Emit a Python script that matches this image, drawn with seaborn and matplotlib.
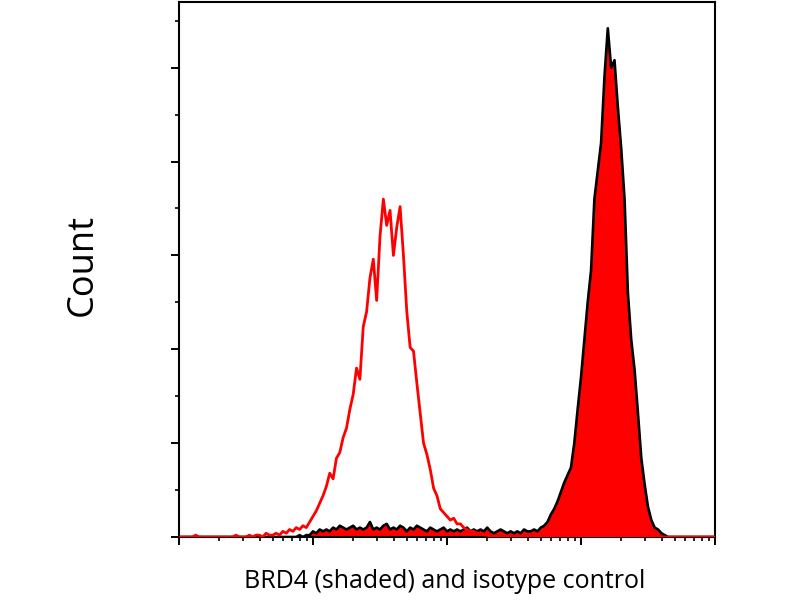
import numpy as np
import matplotlib
matplotlib.use("Agg")
import matplotlib.pyplot as plt
import seaborn as sns

# --- histogram counts, 40 channels per decade, channel 0 = 10^0 ---
isotype_counts = [
    0, 0, 0, 0, 0, 1, 0, 0, 0, 0, 0, 0, 0, 0, 0, 0, 0, 1, 0, 0,
    0, 1, 0, 1, 1, 0, 2, 1, 1, 2, 1, 3, 2, 4, 3, 5, 4, 6, 5, 8,
    11, 14, 18, 22, 27, 34, 31, 42, 45, 53, 58, 68, 76, 90, 84, 112, 120, 138, 148, 126,
    160, 180, 166, 174, 150, 165, 176, 150, 120, 101, 99, 82, 66, 50, 44, 36, 26, 22, 15, 13,
    11, 9, 10, 7, 7, 5, 4, 3, 3, 2, 2, 1, 1, 0, 0, 0, 0, 0, 0, 0,
    0, 0, 0, 0, 0, 0, 0, 0, 0, 0, 0, 0, 0, 0, 0, 0, 0, 0, 0, 0,
    0, 0, 0, 0, 0, 0, 0, 0, 0, 0, 0, 0, 0, 0, 0, 0, 0, 0, 0, 0,
    0, 0, 0, 0, 0, 0, 0, 0, 0, 0, 0, 0, 0, 0, 0, 0, 0, 0, 0, 0,
    0,
]

brd4_counts = [
    0, 0, 0, 0, 0, 0, 0, 0, 0, 0, 0, 0, 0, 0, 0, 0, 0, 0, 0, 0,
    0, 0, 0, 0, 0, 0, 0, 0, 0, 0, 0, 0, 0, 0, 0, 0, 1, 0, 1, 1,
    3, 2, 4, 3, 4, 3, 5, 4, 6, 5, 4, 5, 6, 4, 5, 4, 5, 8, 4, 5,
    4, 6, 7, 4, 5, 4, 6, 5, 3, 5, 4, 6, 5, 4, 3, 5, 4, 3, 4, 5,
    3, 4, 3, 4, 3, 4, 5, 3, 4, 3, 4, 3, 5, 3, 2, 3, 4, 3, 2, 3,
    2, 3, 2, 4, 3, 3, 4, 3, 5, 6, 8, 12, 15, 19, 24, 29, 33, 37, 50, 68,
    85, 105, 125, 142, 180, 195, 210, 245, 271, 250, 254, 229, 207, 180, 130, 105, 89, 66, 42, 28,
    16, 9, 5, 4, 2, 1, 0, 0, 0, 0, 0, 0, 0, 0, 0, 0, 0, 0, 0, 0,
    0,
]

CHANNELS_PER_DECADE = 40
y_major = [0, 50, 100, 150, 200, 250]
y_minor = [25, 75, 125, 175, 225, 275]

channel = np.arange(len(brd4_counts))
fluor = 10.0 ** (channel / CHANNELS_PER_DECADE)

sns.set_style("ticks")
plt.rcParams['font.family'] = ['Open Sans', 'DejaVu Sans']

fig = plt.figure(figsize=(8, 6), dpi=100)
ax = fig.add_axes([179 / 800, 63 / 600, 536 / 800, 535 / 600])

# shaded BRD4 histogram
ax.fill_between(fluor, brd4_counts, color="#ff0000", lw=0, zorder=2)
sns.lineplot(x=fluor, y=brd4_counts, color="black", lw=1.9, ax=ax, zorder=3)
# isotype control
sns.lineplot(x=fluor, y=isotype_counts, color="#ff0000", lw=2.0, ax=ax, zorder=4)

ax.set_xscale("log")
ax.set_xlim(1, 1e4)
ax.set_ylim(0, 285)
ax.set_yticks(y_major)
ax.set_yticks(y_minor, minor=True)

ax.tick_params(which="major", length=6, width=1.4, color="black",
               labelleft=False, labelbottom=False)
ax.tick_params(which="minor", length=3, width=1.2, color="black")
for s in ax.spines.values():
    s.set_visible(True)
    s.set_linewidth(1.5)
    s.set_color("black")
ax.set_xlabel("")
ax.set_ylabel("")

fig.text(0.104, 0.558, "Count", rotation=90, ha="center", va="center",
         fontsize=26, color="black")
fig.text(0.556, 0.03, "BRD4 (shaded) and isotype control", ha="center", va="center",
         fontsize=18, color="black")

fig.savefig("out.png", dpi=100, facecolor="white")
